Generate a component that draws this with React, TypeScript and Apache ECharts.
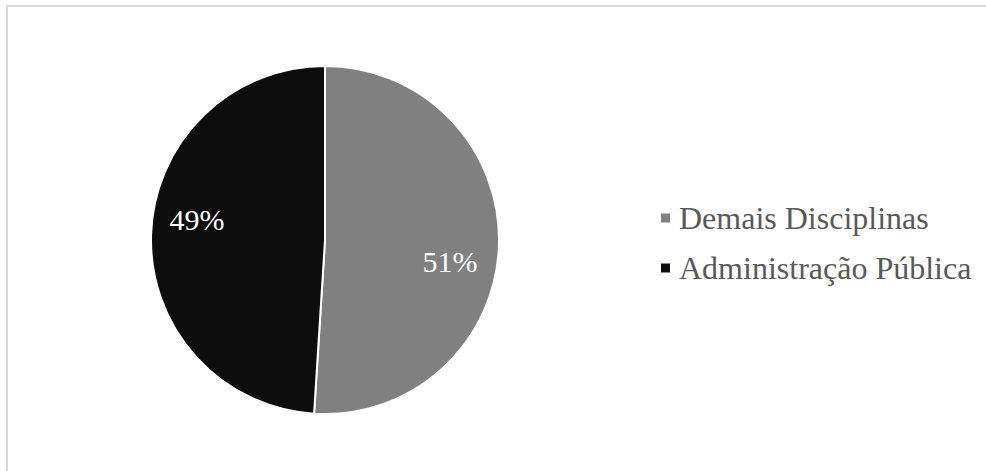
import React, { useEffect, useRef } from "react";
import * as echarts from "echarts";

const categories = ["Demais Disciplinas", "Administração Pública"];
const values = [51, 49];
const colors = ["#808080", "#0d0d0d"];
const labelShift = [
  [35, 19],
  [-38, -18],
];
const FONT = "'Liberation Serif', 'Times New Roman', serif";

export default function App() {
  const ref = useRef<HTMLDivElement>(null);
  useEffect(() => {
    if (!ref.current) return;
    const chart = echarts.init(ref.current, null, { renderer: "svg" });
    chart.setOption({
      animation: false,
      backgroundColor: "#ffffff",
      graphic: [
        {
          type: "rect",
          shape: { x: 7, y: 6, width: 1000, height: 500 },
          style: { fill: "none", stroke: "#d9d9d9", lineWidth: 2 },
          silent: true,
        },
      ],
      legend: {
        orient: "vertical",
        left: 659,
        top: 201,
        padding: 0,
        itemWidth: 11,
        itemHeight: 11,
        itemGap: 16,
        icon: "rect",
        textStyle: {
          fontFamily: FONT,
          fontSize: 32,
          lineHeight: 34,
          color: "#595959",
          padding: [0, 0, 0, 3],
        },
        data: categories,
      },
      series: [
        {
          type: "pie",
          center: [325, 240],
          radius: 174,
          startAngle: 90,
          clockwise: true,
          itemStyle: { borderColor: "#ffffff", borderWidth: 2 },
          label: {
            show: true,
            position: "inside",
            formatter: "{d}%",
            color: "#ffffff",
            fontFamily: FONT,
            fontSize: 30,
          },
          labelLayout: (p: any) => ({
            dx: labelShift[p.dataIndex][0],
            dy: labelShift[p.dataIndex][1],
          }),
          emphasis: { disabled: true },
          data: categories.map((name, i) => ({
            name,
            value: values[i],
            itemStyle: { color: colors[i] },
          })),
        },
      ],
    });
    return () => chart.dispose();
  }, []);
  return (
    <div
      ref={ref}
      style={{ position: "fixed", left: 0, top: 0, width: 986, height: 471 }}
    />
  );
}
